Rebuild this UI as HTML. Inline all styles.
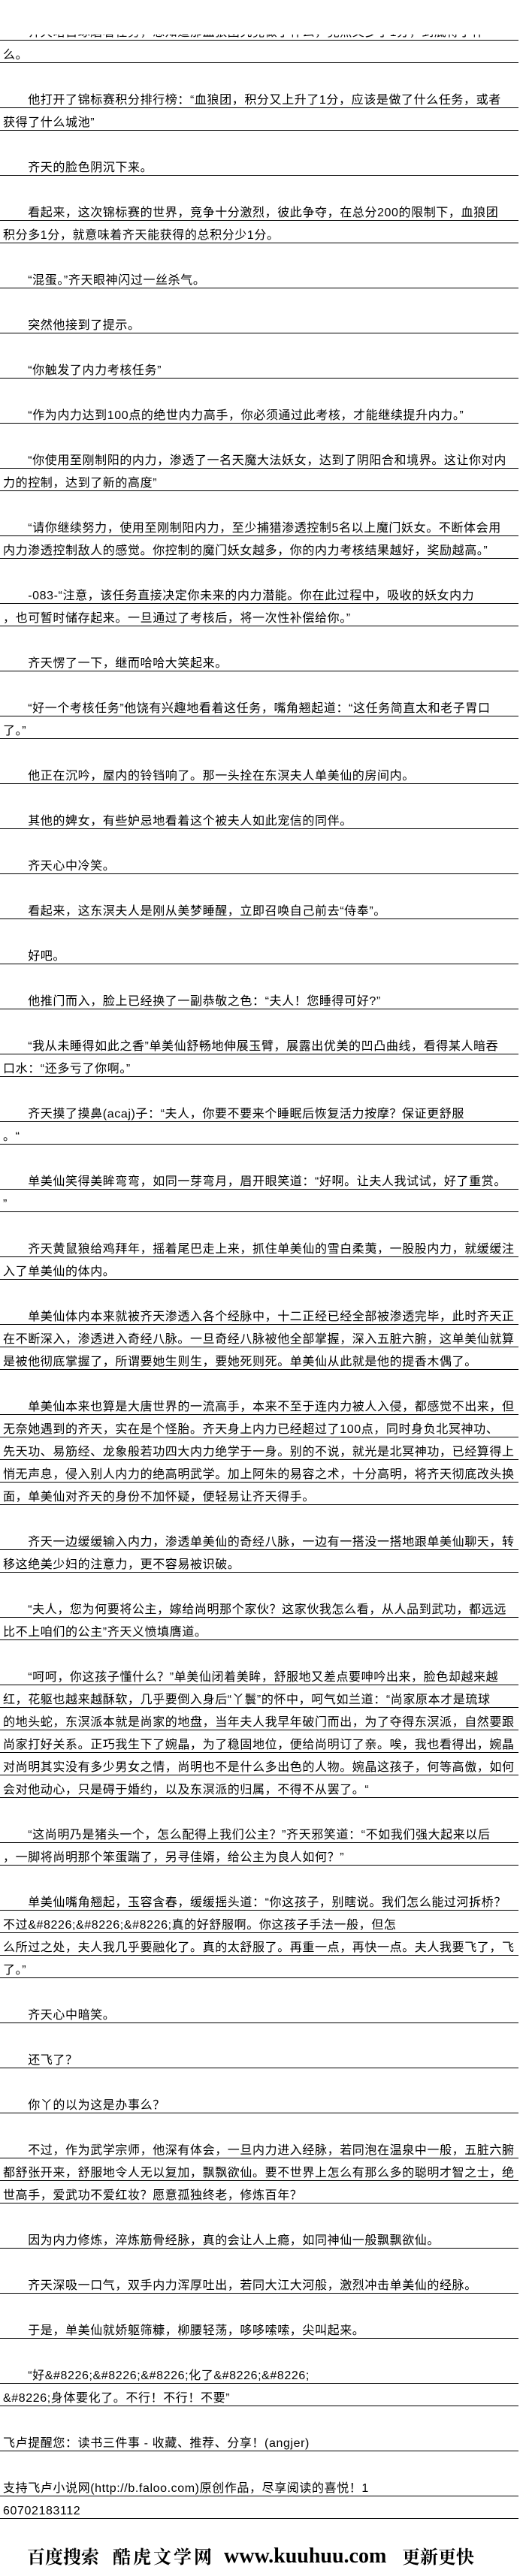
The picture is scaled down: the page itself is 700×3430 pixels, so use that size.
<!DOCTYPE html>
<html><head><meta charset="utf-8">
<style>
html,body{margin:0;padding:0;background:#fff;}
body{width:700px;height:3430px;position:relative;overflow:hidden;
font-family:"Liberation Sans","Noto Sans CJK SC",sans-serif;font-size:16px;color:#000;letter-spacing:0.6px;}
#c{position:absolute;left:0;top:24px;width:690px;}
.r{height:29px;border-bottom:1px solid #000;line-height:16px;box-sizing:content-box;padding:0 0 0 4px;white-space:nowrap;overflow:hidden;}
.r span{display:block;padding-top:12px;}
.b{height:30px;}
#cover{position:absolute;left:0;top:0;width:700px;height:46px;background:#fff;}
.ft{position:absolute;top:3388px;font-weight:bold;white-space:nowrap;letter-spacing:0;}
.cj{font-family:"Noto Serif CJK SC","Noto Sans CJK SC",serif;font-size:24px;line-height:30px;}
.en{font-family:"Liberation Serif",serif;font-size:28px;line-height:30px;}
</style></head><body>
<div id="c">
<div class="r"><span>　　齐天暗自琢磨着任务，想知道那血狼团究竟做了什么，竟然又多了1分，到底得了什</span></div>
<div class="r"><span>么。</span></div>
<div class="b"></div>
<div class="r"><span>　　他打开了锦标赛积分排行榜：“血狼团，积分又上升了1分，应该是做了什么任务，或者</span></div>
<div class="r"><span>获得了什么城池”</span></div>
<div class="b"></div>
<div class="r"><span>　　齐天的脸色阴沉下来。</span></div>
<div class="b"></div>
<div class="r"><span>　　看起来，这次锦标赛的世界，竞争十分激烈，彼此争夺，在总分200的限制下，血狼团</span></div>
<div class="r"><span>积分多1分，就意味着齐天能获得的总积分少1分。</span></div>
<div class="b"></div>
<div class="r"><span>　　“混蛋。”齐天眼神闪过一丝杀气。</span></div>
<div class="b"></div>
<div class="r"><span>　　突然他接到了提示。</span></div>
<div class="b"></div>
<div class="r"><span>　　“你触发了内力考核任务”</span></div>
<div class="b"></div>
<div class="r"><span>　　“作为内力达到100点的绝世内力高手，你必须通过此考核，才能继续提升内力。”</span></div>
<div class="b"></div>
<div class="r"><span>　　“你使用至刚制阳的内力，渗透了一名天魔大法妖女，达到了阴阳合和境界。这让你对内</span></div>
<div class="r"><span>力的控制，达到了新的高度”</span></div>
<div class="b"></div>
<div class="r"><span>　　“请你继续努力，使用至刚制阳内力，至少捕猎渗透控制5名以上魔门妖女。不断体会用</span></div>
<div class="r"><span>内力渗透控制敌人的感觉。你控制的魔门妖女越多，你的内力考核结果越好，奖励越高。”</span></div>
<div class="b"></div>
<div class="r"><span>　　-083-“注意，该任务直接决定你未来的内力潜能。你在此过程中，吸收的妖女内力</span></div>
<div class="r"><span>，也可暂时储存起来。一旦通过了考核后，将一次性补偿给你。”</span></div>
<div class="b"></div>
<div class="r"><span>　　齐天愣了一下，继而哈哈大笑起来。</span></div>
<div class="b"></div>
<div class="r"><span>　　“好一个考核任务”他饶有兴趣地看着这任务，嘴角翘起道：“这任务简直太和老子胃口</span></div>
<div class="r"><span>了。”</span></div>
<div class="b"></div>
<div class="r"><span>　　他正在沉吟，屋内的铃铛响了。那一头拴在东溟夫人单美仙的房间内。</span></div>
<div class="b"></div>
<div class="r"><span>　　其他的婢女，有些妒忌地看着这个被夫人如此宠信的同伴。</span></div>
<div class="b"></div>
<div class="r"><span>　　齐天心中冷笑。</span></div>
<div class="b"></div>
<div class="r"><span>　　看起来，这东溟夫人是刚从美梦睡醒，立即召唤自己前去“侍奉”。</span></div>
<div class="b"></div>
<div class="r"><span>　　好吧。</span></div>
<div class="b"></div>
<div class="r"><span>　　他推门而入，脸上已经换了一副恭敬之色：“夫人！您睡得可好?”</span></div>
<div class="b"></div>
<div class="r"><span>　　“我从未睡得如此之香”单美仙舒畅地伸展玉臂，展露出优美的凹凸曲线，看得某人暗吞</span></div>
<div class="r"><span>口水：“还多亏了你啊。”</span></div>
<div class="b"></div>
<div class="r"><span>　　齐天摸了摸鼻(acaj)子：“夫人，你要不要来个睡眠后恢复活力按摩？保证更舒服</span></div>
<div class="r"><span>。“</span></div>
<div class="b"></div>
<div class="r"><span>　　单美仙笑得美眸弯弯，如同一芽弯月，眉开眼笑道：“好啊。让夫人我试试，好了重赏。</span></div>
<div class="r"><span>”</span></div>
<div class="b"></div>
<div class="r"><span>　　齐天黄鼠狼给鸡拜年，摇着尾巴走上来，抓住单美仙的雪白柔荑，一股股内力，就缓缓注</span></div>
<div class="r"><span>入了单美仙的体内。</span></div>
<div class="b"></div>
<div class="r"><span>　　单美仙体内本来就被齐天渗透入各个经脉中，十二正经已经全部被渗透完毕，此时齐天正</span></div>
<div class="r"><span>在不断深入，渗透进入奇经八脉。一旦奇经八脉被他全部掌握，深入五脏六腑，这单美仙就算</span></div>
<div class="r"><span>是被他彻底掌握了，所谓要她生则生，要她死则死。单美仙从此就是他的提香木偶了。</span></div>
<div class="b"></div>
<div class="r"><span>　　单美仙本来也算是大唐世界的一流高手，本来不至于连内力被人入侵，都感觉不出来，但</span></div>
<div class="r"><span>无奈她遇到的齐天，实在是个怪胎。齐天身上内力已经超过了100点，同时身负北冥神功、</span></div>
<div class="r"><span>先天功、易筋经、龙象般若功四大内力绝学于一身。别的不说，就光是北冥神功，已经算得上</span></div>
<div class="r"><span>悄无声息，侵入别人内力的绝高明武学。加上阿朱的易容之术，十分高明，将齐天彻底改头换</span></div>
<div class="r"><span>面，单美仙对齐天的身份不加怀疑，便轻易让齐天得手。</span></div>
<div class="b"></div>
<div class="r"><span>　　齐天一边缓缓输入内力，渗透单美仙的奇经八脉，一边有一搭没一搭地跟单美仙聊天，转</span></div>
<div class="r"><span>移这绝美少妇的注意力，更不容易被识破。</span></div>
<div class="b"></div>
<div class="r"><span>　　“夫人，您为何要将公主，嫁给尚明那个家伙？这家伙我怎么看，从人品到武功，都远远</span></div>
<div class="r"><span>比不上咱们的公主”齐天义愤填膺道。</span></div>
<div class="b"></div>
<div class="r"><span>　　“呵呵，你这孩子懂什么？”单美仙闭着美眸，舒服地又差点要呻吟出来，脸色却越来越</span></div>
<div class="r"><span>红，花躯也越来越酥软，几乎要倒入身后“丫鬟”的怀中，呵气如兰道：“尚家原本才是琉球</span></div>
<div class="r"><span>的地头蛇，东溟派本就是尚家的地盘，当年夫人我早年破门而出，为了夺得东溟派，自然要跟</span></div>
<div class="r"><span>尚家打好关系。正巧我生下了婉晶，为了稳固地位，便给尚明订了亲。唉，我也看得出，婉晶</span></div>
<div class="r"><span>对尚明其实没有多少男女之情，尚明也不是什么多出色的人物。婉晶这孩子，何等高傲，如何</span></div>
<div class="r"><span>会对他动心，只是碍于婚约，以及东溟派的归属，不得不从罢了。“</span></div>
<div class="b"></div>
<div class="r"><span>　　“这尚明乃是猪头一个，怎么配得上我们公主？”齐天邪笑道：“不如我们强大起来以后</span></div>
<div class="r"><span>，一脚将尚明那个笨蛋踹了，另寻佳婿，给公主为良人如何？”</span></div>
<div class="b"></div>
<div class="r"><span>　　单美仙嘴角翘起，玉容含春，缓缓摇头道：“你这孩子，别瞎说。我们怎么能过河拆桥？</span></div>
<div class="r"><span>不过&amp;#8226;&amp;#8226;&amp;#8226;真的好舒服啊。你这孩子手法一般，但怎</span></div>
<div class="r"><span>么所过之处，夫人我几乎要融化了。真的太舒服了。再重一点，再快一点。夫人我要飞了，飞</span></div>
<div class="r"><span>了。”</span></div>
<div class="b"></div>
<div class="r"><span>　　齐天心中暗笑。</span></div>
<div class="b"></div>
<div class="r"><span>　　还飞了？</span></div>
<div class="b"></div>
<div class="r"><span>　　你丫的以为这是办事么？</span></div>
<div class="b"></div>
<div class="r"><span>　　不过，作为武学宗师，他深有体会，一旦内力进入经脉，若同泡在温泉中一般，五脏六腑</span></div>
<div class="r"><span>都舒张开来，舒服地令人无以复加，飘飘欲仙。要不世界上怎么有那么多的聪明才智之士，绝</span></div>
<div class="r"><span>世高手，爱武功不爱红妆？愿意孤独终老，修炼百年？</span></div>
<div class="b"></div>
<div class="r"><span>　　因为内力修炼，淬炼筋骨经脉，真的会让人上瘾，如同神仙一般飘飘欲仙。</span></div>
<div class="b"></div>
<div class="r"><span>　　齐天深吸一口气，双手内力浑厚吐出，若同大江大河般，激烈冲击单美仙的经脉。</span></div>
<div class="b"></div>
<div class="r"><span>　　于是，单美仙就娇躯筛糠，柳腰轻荡，哆哆嗦嗦，尖叫起来。</span></div>
<div class="b"></div>
<div class="r"><span>　　“好&amp;#8226;&amp;#8226;&amp;#8226;化了&amp;#8226;&amp;#8226;</span></div>
<div class="r"><span>&amp;#8226;身体要化了。不行！不行！不要”</span></div>
<div class="b"></div>
<div class="r"><span>飞卢提醒您：读书三件事 - 收藏、推荐、分享！(angjer)</span></div>
<div class="b"></div>
<div class="r"><span>支持飞卢小说网(http://b.faloo.com)原创作品，尽享阅读的喜悦！1</span></div>
<div class="r"><span>60702183112</span></div>
</div>
<div id="cover"></div>
<div class="ft cj" style="left:36px;">百度搜索</div>
<div class="ft cj" style="left:150px;letter-spacing:3px;">酷虎文学网</div>
<div class="ft en" style="left:298px;top:3389px;">www.kuuhuu.com</div>
<div class="ft cj" style="left:535px;">更新更快</div>
</body></html>
